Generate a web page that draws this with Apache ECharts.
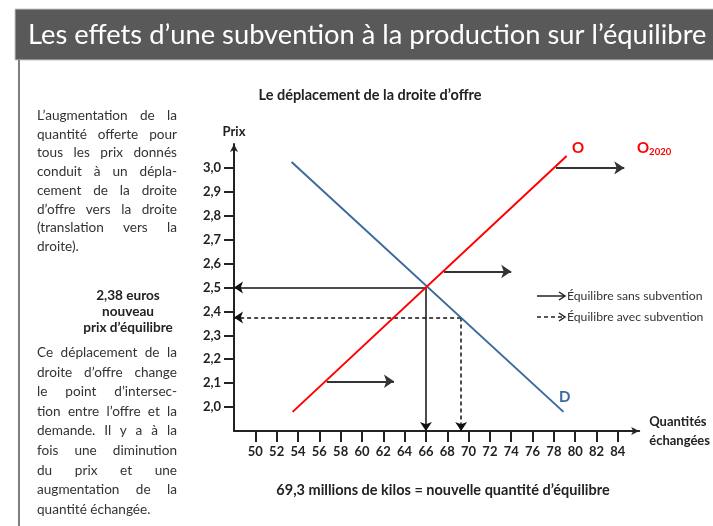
<!DOCTYPE html>
<html>
<head>
<meta charset="utf-8">
<script src="https://cdn.jsdelivr.net/npm/echarts@6/dist/echarts.min.js"></script>
<style>
  html, body { margin: 0; padding: 0; background: #fff; }
  #chart { position: absolute; left: 0; top: 0; width: 713px; height: 526px; }
  .side { position: absolute; left: 37px; width: 140px; font-family: Lato, sans-serif; font-size: 13.6px; color: #333; line-height: 18.7px; }
  .side div { text-align: justify; text-align-last: justify; white-space: nowrap; }
  .side div.last { text-align-last: left; }
  .mid { position: absolute; left: 58px; width: 140px; top: 287px; font-family: Lato, sans-serif; font-weight: bold; font-size: 13.6px; color: #222; text-align: center; line-height: 16px; }
</style>
</head>
<body>
<div id="chart"></div>
<div class="side" style="top:106px">
  <div>L’augmentation de la</div>
  <div>quantité offerte pour</div>
  <div>tous les prix donnés</div>
  <div>conduit à un dépla-</div>
  <div>cement de la droite</div>
  <div>d’offre vers la droite</div>
  <div>(translation vers la</div>
  <div class="last">droite).</div>
</div>
<div class="mid">2,38 euros<br>nouveau<br>prix d’équilibre</div>
<div class="side" style="top:343px; line-height:19.6px">
  <div>Ce déplacement de la</div>
  <div>droite d’offre change</div>
  <div>le point d’intersec-</div>
  <div>tion entre l’offre et la</div>
  <div>demande. Il y a à la</div>
  <div>fois une diminution</div>
  <div>du prix et une</div>
  <div>augmentation de la</div>
  <div class="last">quantité échangée.</div>
</div>
<script>
// tick labels shown on the axes
var xTicks = [50, 52, 54, 56, 58, 60, 62, 64, 66, 68, 70, 72, 74, 76, 78, 80, 82, 84];
var yTicks = [2.0, 2.1, 2.2, 2.3, 2.4, 2.5, 2.6, 2.7, 2.8, 2.9, 3.0];

// demand D and supply O (quantity, price)
var demande = [[53.4, 3.025], [78.9, 1.98]];
var offre = [[53.5, 1.98], [79.2, 3.05]];

// equilibrium without subsidy (66 ; 2,50) and with subsidy (69,3 ; 2,38)
var eqSans = [66, 2.5];
var eqAvec = [69.3, 2.375];

// shift arrows of the supply curve (start, end)
var shifts = [
  [[78.2, 3.0], [84.6, 3.0]],
  [[67.7, 2.567], [74.0, 2.567]],
  [[56.7, 2.108], [63.0, 2.108]]
];

var xMin = 48, xMax = 86, yMin = 1.9, yMax = 3.1;
var font = 'Lato, sans-serif';

function arrows(pt) {
  // from the equilibrium point to each axis
  return [
    { coords: [pt, [xMin, pt[1]]] },
    { coords: [pt, [pt[0], yMin]] }
  ];
}

function legendItem(y, dashed, text) {
  return {
    type: 'group',
    children: [
      { type: 'line', shape: { x1: 537, y1: y, x2: 564, y2: y },
        style: { stroke: '#222', lineWidth: 1.5, lineDash: dashed ? [4, 3] : null } },
      { type: 'polyline', shape: { points: [[559, y - 4], [565, y], [559, y + 4]] },
        style: { stroke: '#222', lineWidth: 1.5, fill: null } },
      { type: 'text', x: 567, y: y, style: { text: text, font: '12.2px ' + font, fill: '#333', verticalAlign: 'middle' } }
    ]
  };
}

var chart = echarts.init(document.getElementById('chart'));

chart.setOption({
  animation: false,
  grid: { left: 234, top: 144, width: 406, height: 287 },
  graphic: [
    { type: 'rect', shape: { x: 15, y: 9, width: 700, height: 51 },
      style: { fill: '#595959', stroke: '#c8c8c8', lineWidth: 1 } },
    { type: 'text', x: 28, y: 35,
      style: { text: 'Les effets d’une subvention à la production sur l’équilibre', font: '27.3px ' + font, fill: '#fff', verticalAlign: 'middle' } },
    { type: 'line', shape: { x1: 19, y1: 60, x2: 19, y2: 526 }, style: { stroke: '#7f7f7f', lineWidth: 2 } },
    { type: 'text', x: 370, y: 95,
      style: { text: 'Le déplacement de la droite d’offre', font: 'bold 14.5px ' + font, fill: '#222', align: 'center', verticalAlign: 'middle' } },
    { type: 'text', x: 443, y: 490,
      style: { text: '69,3 millions de kilos = nouvelle quantité d’équilibre', font: 'bold 14.5px ' + font, fill: '#222', align: 'center', verticalAlign: 'middle' } },
    { type: 'text', x: 572, y: 148,
      style: { text: 'O', font: 'bold 15px ' + font, fill: '#ff0000', verticalAlign: 'middle' } },
    { type: 'text', x: 637, y: 148,
      style: { text: '{a|O}{b|2020}', fill: '#ff0000', verticalAlign: 'middle',
        rich: { a: { font: 'bold 15px ' + font, fill: '#ff0000' }, b: { font: 'bold 9.5px ' + font, fill: '#ff0000', padding: [8, 0, 0, 0] } } } },
    { type: 'text', x: 559, y: 397,
      style: { text: 'D', font: 'bold 15px ' + font, fill: '#3c6a9b', verticalAlign: 'middle' } },
    legendItem(296, false, 'Équilibre sans subvention'),
    legendItem(317, true, 'Équilibre avec subvention')
  ],
  xAxis: {
    type: 'value', min: xMin, max: xMax,
    name: 'Quantités\néchangées', nameLocation: 'end', nameGap: 10,
    nameTextStyle: { fontFamily: font, fontWeight: 'bold', fontSize: 13, color: '#222', align: 'left', lineHeight: 19 },
    splitLine: { show: false },
    axisLine: { lineStyle: { color: '#222', width: 2 }, symbol: ['none', 'arrow'], symbolSize: [6, 8] },
    axisTick: { customValues: xTicks, length: 11, lineStyle: { color: '#222', width: 2 } },
    axisLabel: { customValues: xTicks, margin: 14, fontFamily: font, fontWeight: 'bold', fontSize: 13, color: '#222' }
  },
  yAxis: {
    type: 'value', min: yMin, max: yMax,
    name: 'Prix', nameLocation: 'end', nameGap: 6,
    nameTextStyle: { fontFamily: font, fontWeight: 'bold', fontSize: 13, color: '#222' },
    splitLine: { show: false },
    axisLine: { lineStyle: { color: '#222', width: 2 }, symbol: ['none', 'arrow'], symbolSize: [6, 8] },
    axisTick: { customValues: yTicks, length: 10, lineStyle: { color: '#222', width: 2 } },
    axisLabel: { customValues: yTicks, margin: 13, fontFamily: font, fontWeight: 'bold', fontSize: 13, color: '#222',
      formatter: function (v) { return v.toFixed(1).replace('.', ','); } }
  },
  series: [
    { name: 'D', type: 'line', data: demande, symbol: 'none', silent: true,
      lineStyle: { color: '#3c6a9b', width: 2 } },
    { name: 'O', type: 'line', data: offre, symbol: 'none', silent: true,
      lineStyle: { color: '#ff0000', width: 2 } },
    { name: 'Équilibre sans subvention', type: 'lines', coordinateSystem: 'cartesian2d',
      data: arrows(eqSans), symbol: ['none', 'arrow'], symbolSize: 9, silent: true,
      lineStyle: { color: '#111', width: 1.5, opacity: 1, curveness: 0 } },
    { name: 'Équilibre avec subvention', type: 'lines', coordinateSystem: 'cartesian2d',
      data: arrows(eqAvec), symbol: ['none', 'arrow'], symbolSize: 9, silent: true,
      lineStyle: { color: '#111', width: 1.5, type: [4, 3], opacity: 1, curveness: 0 } },
    { name: 'Déplacement', type: 'lines', coordinateSystem: 'cartesian2d',
      data: shifts.map(function (s) { return { coords: s }; }), symbol: ['none', 'arrow'], symbolSize: 10, silent: true,
      lineStyle: { color: '#333', width: 2, opacity: 1, curveness: 0 } }
  ]
});
</script>
</body>
</html>
